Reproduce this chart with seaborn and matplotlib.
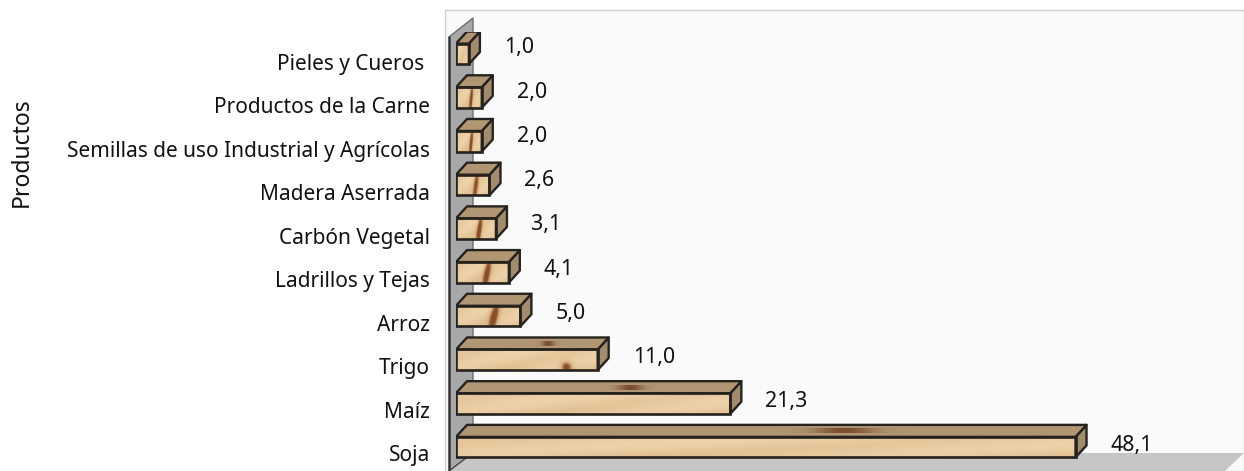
import numpy as np
import pandas as pd
import seaborn as sns
import matplotlib.pyplot as plt
from matplotlib.colors import LinearSegmentedColormap
from matplotlib.patches import Polygon, Rectangle
from matplotlib.transforms import ScaledTranslation

productos = ["Pieles y Cueros ", "Productos de la Carne", "Semillas de uso Industrial y Agrícolas",
             "Madera Aserrada", "Carbón Vegetal", "Ladrillos y Tejas", "Arroz", "Trigo", "Maíz", "Soja"]
valores = [1.0, 2.0, 2.0, 2.6, 3.1, 4.1, 5.0, 11.0, 21.3, 48.1]
etiquetas = ["1,0", "2,0", "2,0", "2,6", "3,1", "4,1", "5,0", "11,0", "21,3", "48,1"]

W, H = 1244, 471
FONT = "Noto Sans"
EDGE = "#26221e"
DX, DY = 11, 12  # depth of the fake 3d, px
PX_PER_UNIT = 12.88
PT = 0.72  # points per pixel at dpi 100

sns.set_theme(style="white")
plt.rcParams["font.family"] = [FONT, "DejaVu Sans"]

wood = LinearSegmentedColormap.from_list("wood", ["#f3dcb8", "#e8cba0", "#d9b283", "#8a4f28"])
top_wood = LinearSegmentedColormap.from_list("top", ["#b09673", "#9c7c58", "#6e3c20"])


def wood_grain(n, val):
    # soft lengthwise grain, slanted knot near the right end for the short planks
    u, v = np.meshgrid(np.linspace(0, 1, n), np.linspace(0, 1, 24))
    g = 0.28 + 0.1 * np.sin(u * 9 + v * 5) + 0.12 * v ** 2
    if 2 <= val <= 5:
        g += 0.7 * np.exp(-((u - 0.62 + 0.06 * v) ** 2) / 0.006)
    elif val > 5 and val < 12:
        g += 0.8 * np.exp(-((u - 0.78) ** 2) / 0.002 - ((v - 0.85) ** 2) / 0.08)
    return np.clip(g, 0, 1)


fig = plt.figure(figsize=(W / 100, H / 100), dpi=100)

# chart box drawn in figure pixels
bg = fig.add_axes([0, 0, 1, 1], zorder=0)
bg.set_xlim(0, W)
bg.set_ylim(H, 0)
bg.axis("off")
bg.add_patch(Rectangle((445, 10), W - 445, H - 10, fc="#fafafa", ec="#cfcfcf", lw=1))
bg.add_patch(Polygon([(449, 37), (473, 18), (473, 453), (449, 471)], fc="#a8a8a8", ec="none"))
bg.add_patch(Polygon([(473, 453), (1244, 453), (1225, 471), (449, 471)], fc="#c6c6c6", ec="none"))
bg.plot([449, 473, 473], [37, 18, 453], color="#6f6f6f", lw=1)
bg.plot([449, 449], [37, 471], color="#333333", lw=1.8)
bg.plot([449, 466], [471, 458], color="#444444", lw=1)

ax = fig.add_axes([456 / W, 1 - 469 / H, (W - 456) / W, (469 - 32) / H], zorder=1)
df = pd.DataFrame({"producto": productos, "valor": valores})
sns.barplot(data=df, x="valor", y="producto", orient="h", width=0.47, color="#e6c89c", ax=ax,
            saturation=1, edgecolor=EDGE, linewidth=1.9)
ax.patch.set_alpha(0)
ax.set_xlim(0, (W - 456) / PX_PER_UNIT)
ylim = ax.get_ylim()
for s in ax.spines.values():
    s.set_visible(False)
ax.set_xlabel("")
ax.set_ylabel("")
ax.set_xticks([])
ax.tick_params(axis="y", length=0, pad=26 * PT, labelsize=15, colors="#111111")
for i, lab in enumerate(ax.get_yticklabels()):
    # tick labels sit a bit below the plank and drift slightly
    shift = ScaledTranslation(0, -(8 - 0.23 * i) / 100, fig.dpi_scale_trans)
    lab.set_transform(lab.get_transform() + shift)

# depth offsets in data units
ddx = DX / PX_PER_UNIT
ddy = DY / 43.7
for i, (bar, val, txt) in enumerate(zip(ax.patches, valores, etiquetas)):
    x0, x1 = bar.get_x(), bar.get_x() + bar.get_width()
    y0, y1 = bar.get_y(), bar.get_y() + bar.get_height()  # y0 is the upper edge (inverted axis)
    im = ax.imshow(wood_grain(max(int((x1 - x0) * 13), 4), val), cmap=wood, vmin=0, vmax=1,
                   extent=(x0, x1, y1, y0), aspect="auto", zorder=3, interpolation="bilinear")
    im.set_clip_path(bar)
    bar.set_facecolor("none")
    bar.set_zorder(4)

    top = Polygon([(x0, y0), (x0 + ddx, y0 - ddy), (x1 + ddx, y0 - ddy), (x1, y0)], fc="#b09673",
                  ec=EDGE, lw=1.7, joinstyle="round", zorder=3)
    side = Polygon([(x1, y0), (x1 + ddx, y0 - ddy), (x1 + ddx, y1 - ddy), (x1, y1)], fc="#a18c6e",
                   ec=EDGE, lw=1.7, joinstyle="round", zorder=3)
    ax.add_patch(side)
    ax.add_patch(top)
    if val > 10:
        # dark streak along the top of the long planks
        u = np.linspace(0, 1, 200)
        streak = np.exp(-((u - 0.62) ** 2) / 0.006)[None, :]
        ax.imshow(streak, cmap=top_wood, vmin=0, vmax=1, aspect="auto", interpolation="bilinear",
                  extent=(x0 + ddx, x1, y0 - ddy * 0.3, y0 - ddy * 0.7), zorder=3.5, alpha=streak * 0.8)
    ax.annotate(txt, (x1, (y0 + y1) / 2), xytext=(35 * PT, (6 - 0.53 * i) * PT), textcoords="offset points",
                ha="left", va="center", fontsize=15.4, color="#111111", zorder=5)
ax.set_xlim(0, (W - 456) / PX_PER_UNIT)
ax.set_ylim(ylim)

fig.text(22 / W, 1 - 152 / H, "Productos", rotation=90, ha="center", va="center", fontsize=16.5, color="#111111")

fig.savefig("out.png", dpi=100)
